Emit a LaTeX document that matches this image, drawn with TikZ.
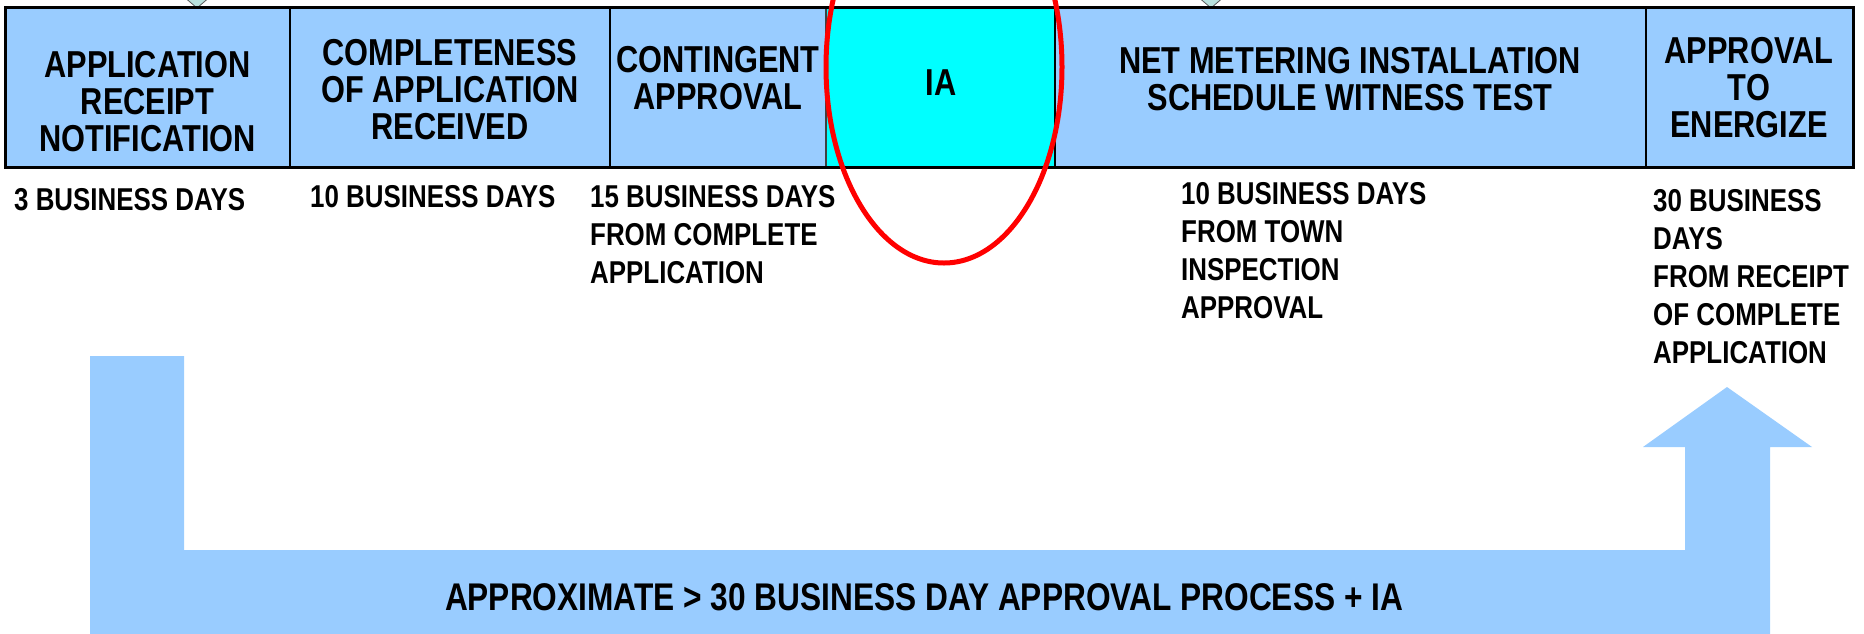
\documentclass[tikz,border=0pt]{standalone}
\usepackage{fontspec}
\setmainfont{Liberation Sans}[FakeStretch=0.82]
\definecolor{lblue}{HTML}{99CCFF}
\definecolor{iacyan}{HTML}{00FFFF}
\definecolor{tri}{HTML}{B9E2DE}
\begin{document}
\begin{tikzpicture}[x=1pt,y=-1pt,
  boxlbl/.style={font=\bfseries\fontsize{37.5}{37}\selectfont, align=center, anchor=north, inner sep=0pt},
  sublbl/.style={font=\bfseries\fontsize{31.6}{38}\selectfont, align=left, anchor=north west, inner sep=0pt},
  cell/.style={draw=black, line width=2.2pt, fill=lblue},
  marker/.style={fill=tri, draw=gray!70!black, line width=0.8pt}]
\useasboundingbox (0,0) rectangle (1864,633);
% big bent arrow
\fill[lblue] (90,640) -- (90,356) -- (184,356) -- (184,550) -- (1685,550) -- (1685,447)
  -- (1643,447) -- (1727,387) -- (1812,447) -- (1770,447) -- (1770,640) -- cycle;
% top markers
\path[marker] (183,-4) -- (211,-4) -- (197,8) -- cycle;
\path[marker] (1197,-4) -- (1225,-4) -- (1211,8) -- cycle;
% cells
\path[cell] (5,7) rectangle (290,167);
\path[cell] (290,7) rectangle (610,167);
\path[cell] (610,7) rectangle (826,167);
\path[draw=black!75, line width=1.5pt, fill=iacyan] (826,7) rectangle (1055,167);
\path[cell] (1055,7) rectangle (1646,167);
\path[cell] (1646,7) rectangle (1853,167);
\draw[line width=3pt] (5,7) -- (1853,7) -- (1853,167) -- (5,167) -- cycle;
% box labels
\node[boxlbl] (b1) at (147.5,51) {APPLICATION\\RECEIPT\\NOTIFICATION};
\node[boxlbl] (b2) at (450,39) {COMPLETENESS\\OF APPLICATION\\RECEIVED};
\node[boxlbl] (b3) at (718,46.5) {CONTINGENT\\APPROVAL};
\node[boxlbl] (b4) at (941,69) {IA};
\node[boxlbl] (b5) at (1350,47.5) {NET METERING INSTALLATION\\SCHEDULE WITNESS TEST};
\node[boxlbl] (b6) at (1749,37) {APPROVAL\\TO\\ENERGIZE};
% time labels
\node[sublbl] (s1) at (14,188) {3 BUSINESS DAYS};
\node[sublbl] (s2) at (310,185) {10 BUSINESS DAYS};
\node[sublbl] (s3) at (590,185) {15 BUSINESS DAYS\\FROM COMPLETE\\APPLICATION};
\node[sublbl] (s4) at (1181,182) {10 BUSINESS DAYS\\FROM TOWN\\INSPECTION\\APPROVAL};
\node[sublbl] (s5) at (1653,189) {30 BUSINESS\\DAYS\\FROM RECEIPT\\OF COMPLETE\\APPLICATION};
% bottom text
\node[font=\bfseries\fontsize{38.6}{40}\selectfont, inner sep=0pt] (bt) at (924,597)
  {APPROXIMATE > 30 BUSINESS DAY APPROVAL PROCESS + IA};
% red ellipse
\draw[red, line width=5pt] (944,67) ellipse [x radius=118pt, y radius=196pt];
\end{tikzpicture}
\end{document}
